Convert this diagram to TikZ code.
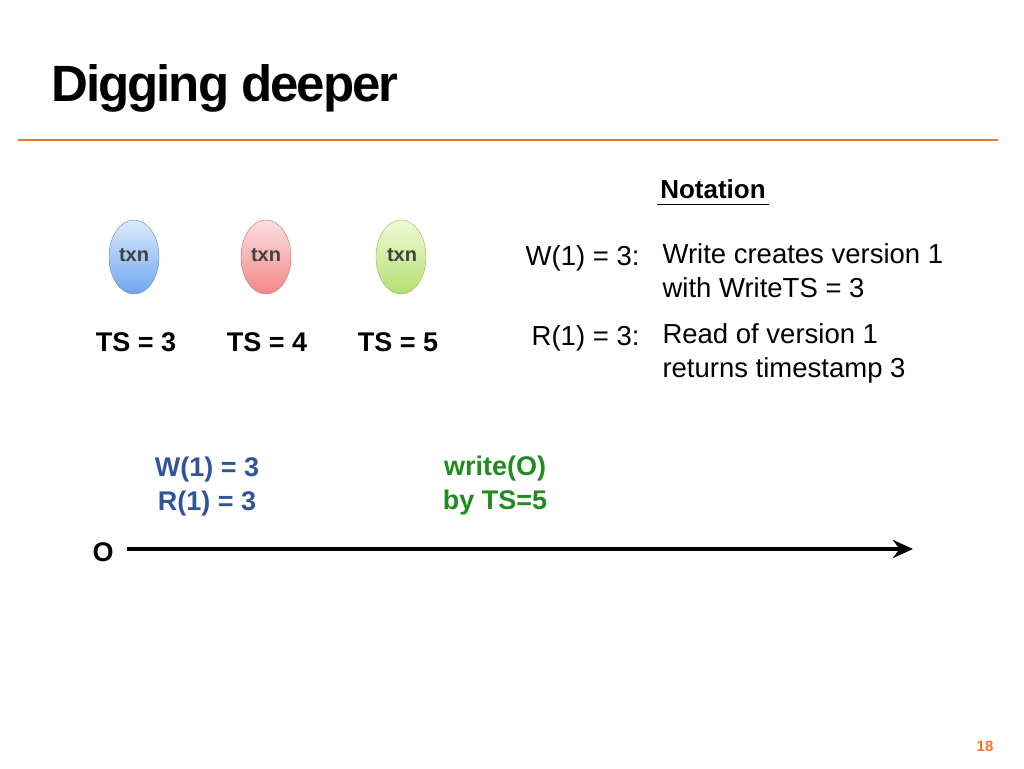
\documentclass[tikz,border=0pt]{standalone}
\usepackage{fontspec}
\setmainfont{Liberation Sans}
\usetikzlibrary{arrows.meta}
\definecolor{orng}{HTML}{E8762B}
\definecolor{tblue}{HTML}{2F5597}
\definecolor{tgreen}{HTML}{1E8C1E}
\definecolor{bt}{HTML}{DCEBFC}\definecolor{bb}{HTML}{6FA6EE}
\definecolor{rt}{HTML}{FDE0E0}\definecolor{rb}{HTML}{F48686}
\definecolor{gt}{HTML}{F0FAD8}\definecolor{gb}{HTML}{B3E070}
\begin{document}
\begin{tikzpicture}[x=1pt,y=-1pt,
  lbl/.style={font=\fontsize{27}{30}\selectfont\bfseries,anchor=center},
  note/.style={font=\fontsize{27.5}{34}\selectfont,anchor=west,align=left}]
\useasboundingbox (0,0) rectangle (1024,768);
\node[anchor=west,font=\fontsize{51}{55}\selectfont\bfseries] (title) at (48,88) {\addfontfeature{LetterSpace=-4}Digging deeper};
\draw[orng,line width=2.5pt] (18,140) -- (998,140);
\node[font=\fontsize{26}{30}\selectfont\bfseries] (nt) at (713,189) {Notation};
\draw[line width=1pt] ([yshift=-2pt]nt.south west) -- ([yshift=-2pt]nt.south east);
\shade[top color=bt,bottom color=bb,draw=bb!80!black] (134,257) ellipse (25 and 37);
\shade[top color=rt,bottom color=rb,draw=rb!80!black] (266,257) ellipse (25 and 37);
\shade[top color=gt,bottom color=gb,draw=gb!80!black] (401,257) ellipse (25 and 37);
\node[font=\fontsize{20}{22}\selectfont\bfseries,text=black!75] (t1) at (134,255) {txn};
\node[font=\fontsize{20}{22}\selectfont\bfseries,text=black!75] (t2) at (266,255) {txn};
\node[font=\fontsize{20}{22}\selectfont\bfseries,text=black!75] (t3) at (402,255) {txn};
\node[lbl] (ts3) at (136,342) {TS = 3};
\node[lbl] (ts4) at (267,342) {TS = 4};
\node[lbl] (ts5) at (398,342) {TS = 5};
\node[font=\fontsize{27.5}{30}\selectfont,anchor=east] (w) at (643,258) {W(1) = 3:};
\node[note,anchor=north west] (wd) at (659,240) {Write creates version 1\\with WriteTS = 3};
\node[font=\fontsize{27.5}{30}\selectfont,anchor=east] (r) at (643,338) {R(1) = 3:};
\node[note,anchor=north west] (rd) at (659,320) {Read of version 1\\returns timestamp 3};
\node[text=tblue,align=center,font=\fontsize{27}{34}\selectfont\bfseries] (wr) at (207,487) {W(1) = 3\\R(1) = 3};
\node[text=tgreen,align=center,font=\fontsize{27}{34}\selectfont\bfseries] (wo) at (495,486) {write(O)\\by TS=5};
\node[lbl] (o) at (103,552) {O};
\coordinate (a0) at (127,549);
\coordinate (a1) at (913,549);
\draw[line width=3.5pt,-{Stealth[length=20pt,width=18pt]}] (a0) -- (a1);
\node[font=\fontsize{15}{18}\selectfont\bfseries,text=orng] (pg) at (985,746) {18};
\end{tikzpicture}
\end{document}
